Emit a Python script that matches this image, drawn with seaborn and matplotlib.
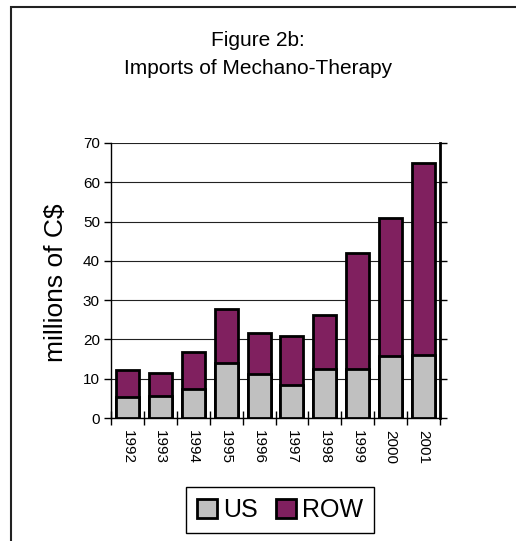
import matplotlib
matplotlib.use("Agg")
import matplotlib.pyplot as plt
from matplotlib.patches import Patch, Rectangle
from matplotlib.ticker import FixedLocator, MultipleLocator
import numpy as np
import seaborn as sns

# Imports of mechano-therapy, millions of C$
years = ["1992", "1993", "1994", "1995", "1996", "1997", "1998", "1999", "2000", "2001"]
us = [5.4, 5.6, 7.5, 14.1, 11.1, 8.4, 12.6, 12.5, 15.8, 16.0]
row = [6.8, 5.9, 9.3, 13.6, 10.5, 12.6, 13.7, 29.6, 35.1, 48.9]

US_COLOR = "#C0C0C0"
ROW_COLOR = "#80205F"

sns.set_style("white")
plt.rcParams["font.family"] = ["Liberation Sans", "DejaVu Sans"]
plt.rcParams.update({"text.color": "black", "axes.labelcolor": "black",
                     "xtick.color": "black", "ytick.color": "black"})

fig = plt.figure(figsize=(5.16, 5.41), dpi=100)
ax = fig.add_axes([111 / 516, 1 - 418 / 541, (440 - 111) / 516, (418 - 143) / 541])

totals = [u + r for u, r in zip(us, row)]

# stacked bars: full height in ROW colour, US portion drawn over the base
sns.barplot(x=years, y=totals, color=ROW_COLOR, saturation=1, width=0.7,
            edgecolor="black", linewidth=2, ax=ax, zorder=3)
sns.barplot(x=years, y=us, color=US_COLOR, saturation=1, width=0.7,
            edgecolor="black", linewidth=2, ax=ax, zorder=3)

ax.set_ylim(0, 70)
ax.set_xlim(-0.5, len(years) - 0.5)
ax.yaxis.set_major_locator(MultipleLocator(10))
ax.grid(axis="y", color="#222222", linewidth=0.8, zorder=0)
ax.grid(axis="x", visible=False)

for side in ["left", "bottom"]:
    ax.spines[side].set_color("black")
    ax.spines[side].set_linewidth(1.0)
ax.spines["top"].set_visible(False)
ax.spines["right"].set_color("black")
ax.spines["right"].set_linewidth(2.0)

ax.tick_params(axis="y", which="major", direction="out", length=5, width=1,
               color="black", labelcolor="black", labelsize=11, pad=3,
               left=True, right=True)
ax.tick_params(axis="x", which="major", length=0, labelsize=11, pad=9,
               labelcolor="black")
ax.xaxis.set_minor_locator(FixedLocator(np.arange(-0.5, len(years), 1.0)))
ax.tick_params(axis="x", which="minor", direction="inout", length=10, width=1,
               color="black", bottom=True)
for lbl in ax.get_xticklabels():
    lbl.set_rotation(270)
    lbl.set_ha("center")
    lbl.set_va("top")

ax.set_xlabel("")
ax.set_ylabel("")

fig.text(56 / 516, 1 - 283 / 541, "millions of C$", rotation=90,
         ha="center", va="center", fontsize=19, color="black")

fig.text(0.5, 1 - 46 / 541, "Figure 2b:", ha="center", va="baseline",
         fontsize=15, color="black")
fig.text(0.5, 1 - 74 / 541, "Imports of Mechano-Therapy", ha="center",
         va="baseline", fontsize=15, color="black")

handles = [Patch(facecolor=US_COLOR, edgecolor="black", linewidth=2, label="US"),
           Patch(facecolor=ROW_COLOR, edgecolor="black", linewidth=2, label="ROW")]
leg = fig.legend(handles=handles, loc="center", bbox_to_anchor=(280 / 516, 1 - 510 / 541),
                 ncol=2, fontsize=18, frameon=True, fancybox=False, framealpha=1,
                 handlelength=0.8, handleheight=0.8, handletextpad=0.25,
                 columnspacing=0.7, borderpad=0.45, borderaxespad=0)
leg.get_frame().set_edgecolor("black")
leg.get_frame().set_linewidth(1.0)
for t in leg.get_texts():
    t.set_color("black")

# chart-area border
fig.patches.append(Rectangle((11 / 516, -0.1), 2.0, 1 - 7 / 541 + 0.1,
                             transform=fig.transFigure, fill=False,
                             edgecolor="#222222", linewidth=1.5, zorder=0))

fig.savefig("out.png", dpi=100)
